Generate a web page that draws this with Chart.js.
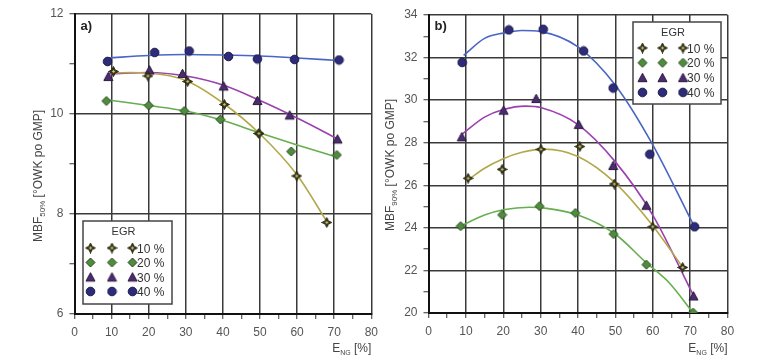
<!DOCTYPE html>
<html>
<head>
<meta charset="utf-8">
<script src="https://cdn.jsdelivr.net/npm/chart.js@4.4.1/dist/chart.umd.min.js"></script>
<style>
    html, body { margin: 0; padding: 0; background: #fff; }
    #wrap { position: relative; width: 768px; height: 364px; overflow: hidden; }
    .panel { position: absolute; top: 0; width: 384px; height: 364px; }
    #panelA { left: 0; }
    #panelB { left: 384px; }
</style>
</head>
<body>
<div id="wrap">
    <div class="panel" id="panelA"><canvas id="chartA" width="384" height="364"></canvas></div>
    <div class="panel" id="panelB"><canvas id="chartB" width="384" height="364"></canvas></div>
</div>
<script>
// EGR series labels
const egrLabels = ["10 %", "20 %", "30 %", "40 %"];

// panel a) measured points
const a10x = [10.5, 19.8, 30.5, 40.4, 49.7, 59.9, 68.0];
const a10y = [10.85, 10.76, 10.65, 10.19, 9.61, 8.76, 7.83];
const a20x = [8.6, 20.0, 29.6, 39.3, 49.7, 58.4, 70.7];
const a20y = [10.26, 10.17, 10.06, 9.89, 9.61, 9.25, 9.18];
const a30x = [9.1, 20.2, 29.1, 40.2, 49.3, 58.0, 70.9];
const a30y = [10.75, 10.88, 10.81, 10.56, 10.27, 9.98, 9.50];
const a40x = [8.9, 21.6, 30.9, 41.5, 49.3, 59.3, 71.3];
const a40y = [11.05, 11.23, 11.26, 11.15, 11.10, 11.09, 11.08];

// panel a) trend curves
const a10fitX = [10, 15, 20, 30, 40, 50, 60, 68];
const a10fitY = [10.82, 10.83, 10.82, 10.67, 10.22, 9.60, 8.78, 7.85];
const a20fitX = [9, 20, 30, 40, 50, 60, 71];
const a20fitY = [10.28, 10.17, 10.06, 9.87, 9.62, 9.38, 9.13];
const a30fitX = [9, 15, 20, 30, 40, 50, 60, 71];
const a30fitY = [10.80, 10.82, 10.83, 10.76, 10.58, 10.27, 9.92, 9.50];
const a40fitX = [9, 20, 30, 40, 50, 60, 71];
const a40fitY = [11.12, 11.17, 11.19, 11.18, 11.16, 11.12, 11.07];

// panel b) measured points
const b10x = [10.6, 19.7, 30.1, 40.5, 49.7, 60.0, 68.0];
const b10y = [26.33, 26.75, 27.69, 27.82, 26.06, 24.05, 22.14];
const b20x = [8.6, 19.7, 29.7, 39.3, 49.5, 58.3, 70.8];
const b20y = [24.08, 24.61, 25.02, 24.70, 23.71, 22.27, 20.02];
const b30x = [8.9, 20.1, 28.8, 40.2, 49.4, 58.3, 70.9];
const b30y = [28.28, 29.53, 30.08, 28.86, 26.93, 25.06, 20.80];
const b40x = [9.0, 21.5, 30.7, 41.5, 49.4, 59.2, 71.2];
const b40y = [31.77, 33.30, 33.33, 32.31, 30.57, 27.46, 24.05];

// panel b) trend curves
const b10fitX = [10.6, 15, 20, 25, 31, 40, 50, 60, 68];
const b10fitY = [26.25, 26.8, 27.25, 27.55, 27.7, 27.35, 26.1, 24.1, 22.15];
const b20fitX = [8.6, 15, 20, 27, 30, 40, 50, 58, 64.5, 70.8];
const b20fitY = [24.08, 24.6, 24.85, 24.97, 24.95, 24.6, 23.7, 22.4, 21.4, 20.0];
const b30fitX = [9, 15, 20, 26, 30, 40, 50, 60, 71];
const b30fitY = [28.4, 29.2, 29.56, 29.72, 29.65, 28.85, 27.1, 24.6, 20.78];
const b40fitX = [9.4, 15, 20, 25, 30, 40, 50, 60, 71];
const b40fitY = [32.1, 32.9, 33.15, 33.27, 33.22, 32.5, 30.7, 27.9, 24.1];

const lineColors = ["#b3a84a", "#66ae4f", "#9c3fb0", "#4a66c4"];
const FONT = "'Liberation Sans', Arial, sans-serif";

const makeMarker = (kind) => {
    const c = document.createElement("canvas");
    c.width = 11;
    c.height = 11;
    const g = c.getContext("2d");
    const m = 5.5;
    g.lineWidth = 1;
    g.beginPath();
    if (kind == "circle") {
        g.arc(m, m, 4.3, 0, Math.PI * 2);
        g.fillStyle = "#2d2b7a";
        g.strokeStyle = "#1a1948";
    } else if (kind == "triangle") {
        g.moveTo(m, 1.2);
        g.lineTo(10, 9.6);
        g.lineTo(1, 9.6);
        g.closePath();
        g.fillStyle = "#4b2c6e";
        g.strokeStyle = "#2a1840";
    } else if (kind == "diamond") {
        g.moveTo(m, 1);
        g.lineTo(10, m);
        g.lineTo(m, 10);
        g.lineTo(1, m);
        g.closePath();
        g.fillStyle = "#4f8d3e";
        g.strokeStyle = "#26451d";
    } else {
        const r = 5, q = 1.6;
        g.moveTo(m, m - r);
        g.lineTo(m + q, m - q);
        g.lineTo(m + r, m);
        g.lineTo(m + q, m + q);
        g.lineTo(m, m + r);
        g.lineTo(m - q, m + q);
        g.lineTo(m - r, m);
        g.lineTo(m - q, m - q);
        g.closePath();
        g.fillStyle = "#3a391a";
        g.strokeStyle = "#2a2910";
    }
    g.fill();
    g.stroke();
    if (kind == "star") {
        g.beginPath();
        g.moveTo(m, m - 1.6);
        g.lineTo(m + 1.6, m);
        g.lineTo(m, m + 1.6);
        g.lineTo(m - 1.6, m);
        g.closePath();
        g.fillStyle = "#c9c27e";
        g.fill();
    }
    return c;
};

const markers = [makeMarker("star"), makeMarker("diamond"), makeMarker("triangle"), makeMarker("circle")];

const toPoints = (xs, ys) => xs.map((x, i) => ({ x: x, y: ys[i] }));

const buildDatasets = (pts, fits) => {
    const ds = [];
    // markers first so they are drawn on top of the curves
    pts.forEach((p, i) => {
        ds.push({
            label: egrLabels[i],
            data: toPoints(p[0], p[1]),
            pointStyle: markers[i],
            pointRadius: 5,
            showLine: false,
        });
    });
    fits.forEach((f, i) => {
        ds.push({
            label: "",
            data: toPoints(f[0], f[1]),
            showLine: true,
            borderColor: lineColors[i],
            borderWidth: 1.6,
            pointRadius: 0,
            cubicInterpolationMode: "monotone",
            fill: false,
        });
    });
    return ds;
};

// draws the axis titles, panel letter and the EGR legend box
const decorPlugin = {
    id: "decor",
    afterDraw(chart, args, opts) {
        const ctx = chart.ctx;
        ctx.save();
        // panel letter
        ctx.fillStyle = "#222";
        ctx.font = "bold 13px " + FONT;
        ctx.textBaseline = "alphabetic";
        ctx.textAlign = "left";
        ctx.fillText(opts.letter, chart.chartArea.left + 6, 30);

        // y title with subscript
        ctx.save();
        ctx.translate(opts.yTitleX, opts.yTitleY);
        ctx.rotate(-Math.PI / 2);
        ctx.fillStyle = "#444";
        const main = "MBF";
        const sub = opts.sub;
        const rest = " [°OWK po GMP]";
        ctx.font = "12px " + FONT;
        const w1 = ctx.measureText(main).width;
        const w3 = ctx.measureText(rest).width;
        ctx.font = "8px " + FONT;
        const w2 = ctx.measureText(sub).width;
        let x0 = -(w1 + w2 + w3) / 2;
        ctx.textAlign = "left";
        ctx.font = "12px " + FONT;
        ctx.fillText(main, x0, 4);
        ctx.font = "8px " + FONT;
        ctx.fillText(sub, x0 + w1, 7);
        ctx.font = "12px " + FONT;
        ctx.fillText(rest, x0 + w1 + w2, 4);
        ctx.restore();

        // x title with subscript
        ctx.fillStyle = "#444";
        const xr = chart.chartArea.right;
        ctx.font = "12px " + FONT;
        const t3 = " [%]";
        const tw3 = ctx.measureText(t3).width;
        ctx.font = "7px " + FONT;
        const tw2 = ctx.measureText("NG").width;
        ctx.font = "12px " + FONT;
        const tw1 = ctx.measureText("E").width;
        let xs = xr - tw1 - tw2 - tw3;
        ctx.fillText("E", xs, 352);
        ctx.font = "7px " + FONT;
        ctx.fillText("NG", xs + tw1, 355);
        ctx.font = "12px " + FONT;
        ctx.fillText(t3, xs + tw1 + tw2, 352);

        // legend box
        const L = opts.legend;
        ctx.fillStyle = "#fff";
        ctx.fillRect(L.x, L.y, L.w, L.h);
        ctx.strokeStyle = "#444";
        ctx.lineWidth = 1.5;
        ctx.strokeRect(L.x, L.y, L.w, L.h);
        ctx.fillStyle = "#333";
        ctx.font = "11px " + FONT;
        ctx.textAlign = "center";
        ctx.fillText("EGR", L.x + L.w / 2 - 4, L.y + 14);
        ctx.textAlign = "left";
        ctx.font = "12px " + FONT;
        egrLabels.forEach((lab, i) => {
            const yy = L.y + L.row0 + i * L.rowGap;
            L.cols.forEach((cx) => {
                ctx.drawImage(markers[i], cx - 5.5, yy - 5.5);
            });
            ctx.fillText(lab, L.textX, yy + 4.5);
        });
        ctx.restore();
    },
};

const makeScales = (ymin, ymax, yWidth, xHeight) => ({
    x: {
        type: "linear",
        min: 0,
        max: 80,
        afterFit: (scale) => { scale.height = xHeight; },
        ticks: {
            stepSize: 5,
            autoSkip: false,
            maxRotation: 0,
            padding: 6,
            color: "#555",
            font: { family: FONT, size: 12 },
            callback: (v) => (v % 10 == 0 ? v : ""),
        },
        grid: {
            color: (c) => (c.tick && c.tick.value % 10 == 0 ? "#3a3a3a" : "rgba(0,0,0,0)"),
            lineWidth: 1.5,
            tickColor: "#333",
            tickLength: 5,
            tickWidth: 1,
        },
        border: { color: "#111", width: 2 },
    },
    y: {
        type: "linear",
        min: ymin,
        max: ymax,
        afterFit: (scale) => { scale.width = yWidth; },
        ticks: {
            stepSize: 1,
            autoSkip: false,
            padding: 6,
            color: "#555",
            font: { family: FONT, size: 12 },
            callback: (v) => (v % 2 == 0 ? v : ""),
        },
        grid: {
            color: (c) => (c.tick && c.tick.value % 2 == 0 ? "#3a3a3a" : "rgba(0,0,0,0)"),
            lineWidth: 1.5,
            tickColor: "#333",
            tickLength: 5,
            tickWidth: 1,
        },
        border: { color: "#111", width: 2 },
    },
});

new Chart(document.getElementById("chartA"), {
    type: "scatter",
    data: {
        datasets: buildDatasets(
            [[a10x, a10y], [a20x, a20y], [a30x, a30y], [a40x, a40y]],
            [[a10fitX, a10fitY], [a20fitX, a20fitY], [a30fitX, a30fitY], [a40fitX, a40fitY]]
        ),
    },
    options: {
        responsive: false,
        animation: false,
        layout: { padding: { left: 0, right: 10, top: 14, bottom: 0 } },
        scales: makeScales(6, 12, 74.5, 50),
        plugins: {
            legend: { display: false },
            tooltip: { enabled: false },
            decor: {
                letter: "a)",
                sub: "50%",
                yTitleX: 38,
                yTitleY: 176,
                legend: { x: 83, y: 221, w: 89, h: 83, row0: 27, rowGap: 14.5, cols: [90.5, 112, 132.5], textX: 137 },
            },
        },
    },
    plugins: [decorPlugin],
});

new Chart(document.getElementById("chartB"), {
    type: "scatter",
    data: {
        datasets: buildDatasets(
            [[b10x, b10y], [b20x, b20y], [b30x, b30y], [b40x, b40y]],
            [[b10fitX, b10fitY], [b20fitX, b20fitY], [b30fitX, b30fitY], [b40fitX, b40fitY]]
        ),
    },
    options: {
        responsive: false,
        animation: false,
        layout: { padding: { left: 0, right: 40.5, top: 15, bottom: 0 } },
        scales: makeScales(20, 34, 44.5, 51),
        plugins: {
            legend: { display: false },
            tooltip: { enabled: false },
            decor: {
                letter: "b)",
                sub: "90%",
                yTitleX: 6,
                yTitleY: 165,
                legend: { x: 249, y: 22, w: 88, h: 82, row0: 26, rowGap: 14.8, cols: [258.5, 278.5, 299], textX: 303 },
            },
        },
    },
    plugins: [decorPlugin],
});
</script>
</body>
</html>
